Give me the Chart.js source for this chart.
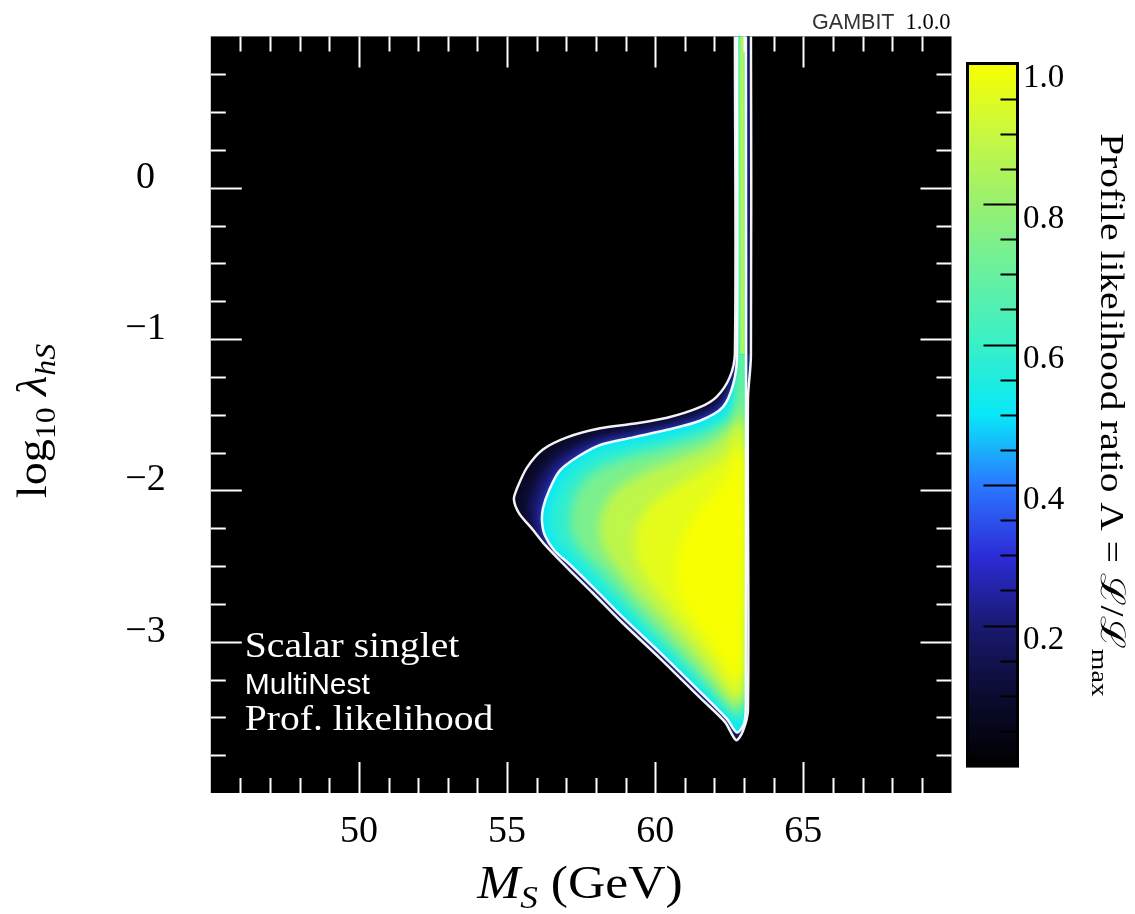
<!DOCTYPE html>
<html>
<head>
<meta charset="utf-8">
<script src="https://cdn.jsdelivr.net/npm/chart.js@4.4.0/dist/chart.umd.min.js"></script>
<style>
  html, body { margin: 0; padding: 0; background: #fff; }
  canvas { display: block; }
</style>
</head>
<body>
<canvas id="likelihoodChart" width="1135" height="914" style="width:1135px;height:914px"></canvas>
<script>
// axes
const massRange = [45, 70];
const couplingRange = [-4, 1];
const massLabelled = [50, 55, 60, 65];
const couplingLabelled = [-3, -2, -1, 0];
const ratioLabelled = [0.2, 0.4, 0.6, 0.8, 1.0];

// colour map of the profile likelihood ratio
const cmapStops = [0.0, 0.1, 0.2, 0.3, 0.4, 0.5, 0.6, 0.7, 0.8, 0.9, 1.0];
const cmapColours = ['#000000', '#0b0b30', '#191970', '#2c2cd8', '#2a78ff', '#08e8f8',
                     '#38f0c8', '#68f0a0', '#98f070', '#c8f840', '#f8ff00'];

// contours, [M_S, log10 lambda_hS]
const outerContour = [
  [62.69, 1.05], [62.69, -1.09], [62.52, -1.25], [62.08, -1.38], [61.51, -1.45],
  [60.40, -1.52], [59.25, -1.56], [58.14, -1.59], [57.02, -1.65], [56.21, -1.73],
  [55.67, -1.85], [55.33, -1.99], [55.23, -2.06], [55.40, -2.15], [55.87, -2.26],
  [56.28, -2.36], [57.02, -2.51], [57.90, -2.68], [58.81, -2.86], [60.16, -3.11],
  [61.51, -3.37], [62.35, -3.53], [62.73, -3.65], [62.96, -3.59], [63.13, -3.45],
  [63.13, -1.40], [63.23, -1.11], [63.23, 1.05]
];
const innerContour = [
  [62.76, 1.05], [62.76, -1.11], [62.63, -1.30], [62.28, -1.45], [61.51, -1.54],
  [60.40, -1.60], [59.25, -1.65], [58.14, -1.70], [57.37, -1.78], [56.78, -1.87],
  [56.44, -1.99], [56.21, -2.12], [56.18, -2.21], [56.28, -2.30], [56.61, -2.40],
  [57.12, -2.49], [58.00, -2.66], [58.91, -2.84], [60.26, -3.09], [61.61, -3.35],
  [62.42, -3.51], [62.76, -3.60], [63.00, -3.54], [63.06, -3.41], [63.06, 1.05]
];

// iso-likelihood shells inside the contours
const shell13 = [
  [62.73, 1.05], [62.73, -1.10], [62.57, -1.28], [62.19, -1.42], [61.51, -1.49],
  [60.40, -1.56], [59.25, -1.60], [58.14, -1.64], [57.19, -1.71], [56.50, -1.80],
  [56.06, -1.92], [55.77, -2.05], [55.72, -2.14], [55.86, -2.24], [56.08, -2.33],
  [56.44, -2.38], [57.07, -2.50], [57.95, -2.67], [58.86, -2.85], [60.21, -3.10],
  [61.56, -3.36], [62.39, -3.52], [62.74, -3.63], [62.98, -3.56], [63.09, -3.43],
  [63.10, -1.40], [63.14, -1.11], [63.14, 1.05]
];
const shell50 = [
  [62.81, 1.05], [62.81, -1.15], [62.73, -1.34], [62.46, -1.48], [61.61, -1.58],
  [60.43, -1.64], [59.28, -1.69], [58.17, -1.74], [57.46, -1.82], [56.95, -1.91],
  [56.65, -2.01], [56.44, -2.13], [56.41, -2.22], [56.51, -2.30], [56.78, -2.38],
  [57.29, -2.48], [58.14, -2.65], [59.01, -2.81], [60.33, -3.06], [61.68, -3.32],
  [62.46, -3.47], [62.79, -3.56], [62.96, -3.51], [63.03, -3.41], [63.04, 1.05]
];
const shell65 = [
  [62.84, 1.05], [62.84, -1.22], [62.79, -1.38], [62.56, -1.52], [61.71, -1.63],
  [60.50, -1.71], [59.31, -1.77], [58.30, -1.84], [57.73, -1.91], [57.34, -2.01],
  [57.16, -2.12], [57.12, -2.23], [57.26, -2.33], [57.60, -2.42], [58.14, -2.53],
  [58.74, -2.66], [59.48, -2.82], [60.56, -3.04], [61.78, -3.29], [62.49, -3.44],
  [62.76, -3.49], [62.93, -3.45], [63.00, -3.35], [63.01, 1.05]
];
const shell80 = [
  [62.88, 1.05], [62.88, -1.34], [62.76, -1.54], [61.92, -1.70], [60.70, -1.80],
  [59.55, -1.89], [58.71, -1.99], [58.27, -2.11], [58.10, -2.25], [58.24, -2.38],
  [58.64, -2.50], [59.25, -2.65], [59.99, -2.81], [60.97, -3.02], [61.98, -3.25],
  [62.59, -3.40], [62.83, -3.43], [62.96, -3.35], [62.98, 1.05]
];
const shell90 = [
  [62.96, -1.54], [62.39, -1.77], [61.51, -1.88], [60.57, -1.99], [59.82, -2.10],
  [59.38, -2.24], [59.31, -2.39], [59.58, -2.54], [60.16, -2.70], [61.04, -2.91],
  [61.95, -3.14], [62.63, -3.34], [62.86, -3.36], [62.96, -3.29]
];
const shell98 = [
  [62.96, -1.73], [62.25, -1.97], [61.51, -2.12], [60.97, -2.30], [60.70, -2.49],
  [60.83, -2.69], [61.41, -2.88], [62.12, -3.07], [62.73, -3.24], [62.93, -3.23]
];
const shellLevels = [0.58, 0.74, 0.88, 0.96, 1.0];
const shells = [shell50, shell65, shell80, shell90, shell98];

// the thin vertical strip is painted with less smoothing than the main lobe
const stripBase = -1.1;
const curveTension = 0.3;

const serif = '"Liberation Serif", "DejaVu Serif", serif';
const sans = '"Liberation Sans", "DejaVu Sans", sans-serif';

function hexToRgb(h) {
    return [1, 3, 5].map(i => parseInt(h.substr(i, 2), 16));
}

function ratioColour(v) {
    let i = 0;
    while (i < cmapStops.length - 2 && v > cmapStops[i + 1]) i++;
    const t = Math.min(1, Math.max(0, (v - cmapStops[i]) / (cmapStops[i + 1] - cmapStops[i])));
    const a = hexToRgb(cmapColours[i]), b = hexToRgb(cmapColours[i + 1]);
    const c = a.map((ch, k) => Math.round(ch + (b[k] - ch) * t));
    return `rgb(${c[0]},${c[1]},${c[2]})`;
}

// text made of several runs (sub/superscripts, italics)
function drawRuns(ctx, runs, cx, cy, angle, stretch) {
    ctx.save();
    ctx.translate(cx, cy);
    ctx.rotate(angle);
    ctx.scale(stretch, 1);
    let total = 0;
    runs.forEach(r => { ctx.font = r.font; r.w = ctx.measureText(r.t).width; total += r.w; });
    let x = -total / 2;
    ctx.textBaseline = 'alphabetic';
    ctx.textAlign = 'left';
    runs.forEach(r => {
        ctx.font = r.font;
        ctx.fillText(r.t, x, r.dy || 0);
        x += r.w;
    });
    ctx.restore();
}

function drawLeft(ctx, text, font, x, y, stretch) {
    ctx.save();
    ctx.translate(x, y);
    ctx.scale(stretch, 1);
    ctx.font = font;
    ctx.textAlign = 'left';
    ctx.textBaseline = 'alphabetic';
    ctx.fillText(text, 0, 0);
    ctx.restore();
}

// filled likelihood map under the contour lines
const likelihoodField = {
    id: 'likelihoodField',
    beforeDatasetsDraw(chart) {
        const {ctx, chartArea: a, scales: {x, y}} = chart;
        // closed smooth outline, same spline as the contour lines
        const trace = pts => {
            const p = pts.map(q => ({x: x.getPixelForValue(q[0]), y: y.getPixelForValue(q[1])}));
            const n = p.length;
            const cps = p.map((cur, i) => Chart.helpers.splineCurve(p[(i - 1 + n) % n], cur, p[(i + 1) % n], curveTension));
            ctx.beginPath();
            ctx.moveTo(p[0].x, p[0].y);
            for (let i = 1; i <= n; i++) {
                const a0 = cps[i - 1].next, b0 = cps[i % n].previous, e = p[i % n];
                ctx.bezierCurveTo(a0.x, a0.y, b0.x, b0.y, e.x, e.y);
            }
            ctx.closePath();
        };
        const paint = (top, bottom, blur) => {
            ctx.save();
            ctx.beginPath();
            ctx.rect(a.left, top, a.width, bottom - top);
            ctx.clip();

            // band between the two contours
            ctx.save();
            trace(outerContour);
            ctx.clip();
            ctx.fillStyle = ratioColour(0.08);
            ctx.fill();
            ctx.filter = `blur(${blur}px)`;
            trace(shell13);
            ctx.fillStyle = ratioColour(0.2);
            ctx.fill();
            trace(innerContour);
            ctx.fillStyle = ratioColour(0.34);
            ctx.fill();
            ctx.restore();

            // inside the inner contour
            ctx.save();
            trace(innerContour);
            ctx.clip();
            ctx.fillStyle = ratioColour(0.5);
            ctx.fill();
            ctx.filter = `blur(${blur}px)`;
            shells.forEach((s, i) => {
                trace(s);
                ctx.fillStyle = ratioColour(shellLevels[i]);
                ctx.fill();
            });
            ctx.restore();
            ctx.restore();
        };

        ctx.save();
        ctx.fillStyle = '#000';
        ctx.fillRect(a.left, a.top, a.width, a.height);
        const split = y.getPixelForValue(stripBase);
        paint(a.top, split, 0.8);
        paint(split, a.bottom, 5.5);
        ctx.restore();
    }
};

// inward ticks, colour bar, titles and labels
const decorations = {
    id: 'decorations',
    afterDraw(chart) {
        const {ctx, chartArea: a, scales: {x, y, cb}} = chart;
        ctx.save();

        // white ticks pointing into the plot on all four sides
        ctx.strokeStyle = '#fff';
        ctx.lineWidth = 2;
        ctx.beginPath();
        x.ticks.forEach(t => {
            if (t.value <= massRange[0] || t.value >= massRange[1]) return;
            const px = Math.round(x.getPixelForValue(t.value)) + 0.5;
            const len = t.value % 5 === 0 ? 31 : 15;
            ctx.moveTo(px, a.top); ctx.lineTo(px, a.top + len);
            ctx.moveTo(px, a.bottom); ctx.lineTo(px, a.bottom - len);
        });
        y.ticks.forEach(t => {
            if (t.value <= couplingRange[0] || t.value >= couplingRange[1]) return;
            const py = Math.round(y.getPixelForValue(t.value)) + 0.5;
            const len = Number.isInteger(t.value) ? 31 : 15;
            ctx.moveTo(a.left, py); ctx.lineTo(a.left + len, py);
            ctx.moveTo(a.right, py); ctx.lineTo(a.right - len, py);
        });
        ctx.stroke();

        // colour bar
        const barLeft = a.right + 16;
        const barWidth = 50;
        const barTop = cb.getPixelForValue(1);
        const barBottom = cb.getPixelForValue(0);
        const grad = ctx.createLinearGradient(0, barBottom, 0, barTop);
        cmapStops.forEach((s, i) => grad.addColorStop(s, cmapColours[i]));
        ctx.fillStyle = grad;
        ctx.fillRect(barLeft, barTop, barWidth, barBottom - barTop);
        ctx.strokeStyle = '#000';
        ctx.lineWidth = 2;
        ctx.beginPath();
        cb.ticks.forEach(t => {
            if (t.value <= 0.001 || t.value >= 0.999) return;
            const py = Math.round(cb.getPixelForValue(t.value)) + 0.5;
            const major = ratioLabelled.some(r => Math.abs(r - t.value) < 1e-6);
            ctx.moveTo(barLeft + barWidth, py);
            ctx.lineTo(barLeft + barWidth - (major ? 34 : 17), py);
        });
        ctx.stroke();
        ctx.lineWidth = 3;
        ctx.strokeRect(barLeft, barTop, barWidth, barBottom - barTop);

        // text inside the plot
        ctx.fillStyle = '#fff';
        drawLeft(ctx, 'Scalar singlet', `36px ${serif}`, a.left + 34, 657, 1.1);
        drawLeft(ctx, 'MultiNest', `30px ${sans}`, a.left + 34, 694, 1.0);
        drawLeft(ctx, 'Prof. likelihood', `36px ${serif}`, a.left + 34, 730, 1.1);

        // axis titles
        ctx.fillStyle = '#000';
        drawRuns(ctx, [
            {t: 'M', font: `italic 47px ${serif}`},
            {t: 'S', font: `italic 32px ${serif}`, dy: 10},
            {t: ' (GeV)', font: `47px ${serif}`}
        ], 580, 898, 0, 1.1);

        drawRuns(ctx, [
            {t: 'log', font: `42px ${serif}`},
            {t: '10', font: `29px ${serif}`, dy: 9},
            {t: ' \u03bb', font: `italic 42px ${serif}`},
            {t: 'hS', font: `italic 29px ${serif}`, dy: 9}
        ], 46, 421, -Math.PI / 2, 1.1);

        drawRuns(ctx, [
            {t: 'Profile likelihood ratio \u039b = \u2112/\u2112', font: `34px ${serif}`},
            {t: 'max', font: `24px ${serif}`, dy: 9}
        ], 1101, 415, Math.PI / 2, 1.16);

        // version stamp
        ctx.textBaseline = 'alphabetic';
        ctx.textAlign = 'right';
        ctx.font = `22.5px ${serif}`;
        const ver = '1.0.0';
        ctx.fillText(ver, a.right - 1, 29);
        const vw = ctx.measureText(ver).width;
        ctx.font = `21.5px ${sans}`;
        ctx.fillStyle = '#333';
        ctx.fillText('GAMBIT', a.right - 1 - vw - 11, 29);

        ctx.restore();
    }
};

const toPoints = arr => arr.map(p => ({x: p[0], y: p[1]}));
const ctx = document.getElementById('likelihoodChart').getContext('2d');

new Chart(ctx, {
    type: 'scatter',
    data: {
        datasets: [{
            label: '68.3% CL',
            data: toPoints(innerContour),
            showLine: true,
            tension: curveTension,
            borderColor: 'rgba(255, 255, 255, 0.95)',
            borderWidth: 2.5,
            pointRadius: 0,
            fill: false
        }, {
            label: '95.4% CL',
            data: toPoints(outerContour),
            showLine: true,
            tension: curveTension,
            borderColor: 'rgba(255, 255, 255, 0.95)',
            borderWidth: 2.5,
            pointRadius: 0,
            fill: false
        }]
    },
    options: {
        responsive: false,
        animation: false,
        devicePixelRatio: 1,
        layout: { padding: { top: 36.4, left: 0, right: 0, bottom: 0 } },
        plugins: {
            legend: { display: false },
            tooltip: { enabled: false }
        },
        scales: {
            // label distance comes from tickLength so it does not eat into the plot height
            x: {
                type: 'linear',
                position: 'bottom',
                min: massRange[0],
                max: massRange[1],
                grid: { display: false, drawTicks: true, tickLength: 16 },
                border: { display: false },
                ticks: {
                    stepSize: 1,
                    autoSkip: false,
                    maxRotation: 0,
                    minRotation: 0,
                    padding: 0,
                    color: '#000',
                    font: { family: serif, size: 38 },
                    callback: v => massLabelled.includes(v) ? String(v) : ''
                },
                afterFit: s => { s.height = 121; }
            },
            y: {
                type: 'linear',
                position: 'left',
                min: couplingRange[0],
                max: couplingRange[1],
                grid: { display: false, drawTicks: true, tickLength: 45 },
                border: { display: false },
                ticks: {
                    stepSize: 0.25,
                    autoSkip: false,
                    padding: 0,
                    crossAlign: 'center',
                    labelOffset: -10,
                    color: '#000',
                    font: { family: serif, size: 38 },
                    callback: v => couplingLabelled.includes(v) ? (v < 0 ? '\u2212' + Math.abs(v) : String(v)) : ''
                },
                afterFit: s => { s.width = 210.8; }
            },
            cb: {
                type: 'linear',
                position: 'right',
                min: -0.0383,
                max: 1.0386,
                grid: { display: false, drawTicks: true, tickLength: 71.5 },
                border: { display: false },
                ticks: {
                    stepSize: 0.05,
                    includeBounds: false,
                    autoSkip: false,
                    padding: 0,
                    labelOffset: 15,
                    color: '#000',
                    font: { family: serif, size: 33 },
                    callback: v => ratioLabelled.some(r => Math.abs(r - v) < 1e-6) ? v.toFixed(1) : ''
                },
                afterFit: s => { s.width = 183.5; }
            }
        }
    },
    plugins: [likelihoodField, decorations]
});
</script>
</body>
</html>
